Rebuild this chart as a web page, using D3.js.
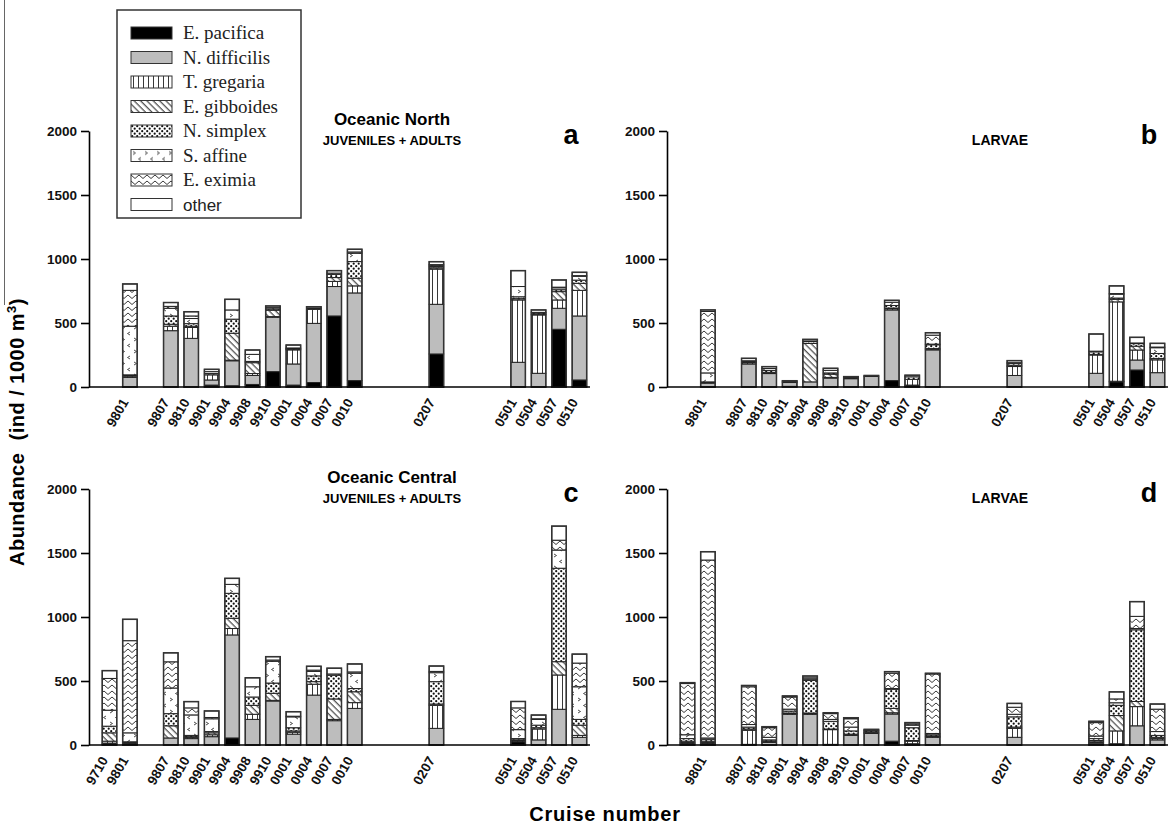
<!DOCTYPE html>
<html lang="en">
    <head>
        <meta charset="utf-8">
        <title>Euphausiid abundance</title>
        <script type="text/javascript" src="https://cdnjs.cloudflare.com/ajax/libs/d3/7.8.5/d3.min.js"></script>
        <style type="text/css">
            body { margin: 0; background: #fff; }
        </style>
    </head>
    <body>
        <script type="text/javascript">
            var w = 1168;
            var h = 828;
            var sans = "'Liberation Sans', Arial, sans-serif";
            var serif = "'Liberation Serif', 'Times New Roman', serif";

            var species = ["E. pacifica", "N. difficilis", "T. gregaria", "E. gibboides",
                           "N. simplex", "S. affine", "E. eximia", "other"];

            // every slot on the cruise axis, blanks are the gaps between sampling periods
            var cruiseSlots = ["9710", "9801", "gap1", "9807", "9810", "9901", "9904", "9908", "9910",
                               "0001", "0004", "0007", "0010", "gap2", "gap3", "gap4", "0207",
                               "gap5", "gap6", "gap7", "0501", "0504", "0507", "0510"];

            var yTicks = [0, 500, 1000, 1500, 2000];

            var northCruises = ["9801", "9807", "9810", "9901", "9904", "9908", "9910", "0001",
                                "0004", "0007", "0010", "0207", "0501", "0504", "0507", "0510"];
            var centralCruises = ["9710", "9801", "9807", "9810", "9901", "9904", "9908", "9910", "0001",
                                  "0004", "0007", "0010", "0207", "0501", "0504", "0507", "0510"];

            var northLabels = northCruises;
            var centralAdultLabels = centralCruises;
            var centralLarvaeLabels = northCruises;

            // rows: pacifica, difficilis, gregaria, gibboides, simplex, affine, eximia, other
            var northAdult = [
                [0, 75, 10, 5, 5, 380, 280, 50],
                [0, 440, 35, 15, 65, 60, 15, 30],
                [0, 380, 85, 10, 20, 40, 20, 33],
                [15, 40, 40, 0, 10, 15, 0, 18],
                [10, 195, 5, 210, 110, 72, 0, 83],
                [20, 70, 15, 85, 10, 55, 0, 34],
                [120, 425, 5, 50, 10, 10, 0, 13],
                [15, 165, 110, 5, 5, 5, 0, 23],
                [35, 462, 110, 0, 5, 5, 0, 10],
                [555, 230, 40, 30, 25, 10, 0, 19],
                [50, 685, 55, 60, 130, 65, 10, 21],
                [258, 388, 275, 10, 10, 10, 5, 23],
                [0, 193, 487, 10, 15, 80, 0, 124],
                [0, 107, 456, 5, 10, 5, 0, 19],
                [451, 164, 65, 65, 15, 15, 5, 56],
                [55, 500, 200, 55, 25, 30, 5, 26]
            ];

            var northLarvae = [
                [0, 30, 0, 5, 5, 70, 480, 12],
                [0, 180, 10, 5, 5, 5, 0, 19],
                [0, 105, 5, 5, 15, 15, 0, 14],
                [5, 30, 5, 5, 0, 0, 0, 4],
                [0, 40, 0, 300, 15, 5, 0, 12],
                [0, 70, 5, 25, 10, 20, 0, 16],
                [0, 65, 5, 0, 5, 0, 0, 6],
                [0, 82, 0, 0, 0, 0, 0, 8],
                [50, 552, 10, 5, 20, 25, 0, 15],
                [10, 5, 45, 0, 20, 0, 0, 12],
                [0, 290, 5, 5, 30, 5, 70, 19],
                [0, 90, 70, 10, 15, 5, 0, 16],
                [0, 107, 143, 5, 20, 5, 0, 134],
                [40, 5, 620, 20, 10, 30, 5, 60],
                [133, 78, 78, 30, 20, 5, 0, 44],
                [0, 112, 100, 10, 40, 45, 5, 29]
            ];

            var centralAdult = [
                [10, 5, 15, 65, 52, 125, 248, 61],
                [10, 0, 5, 5, 5, 70, 720, 167],
                [0, 55, 0, 95, 95, 200, 205, 70],
                [0, 50, 10, 5, 10, 160, 55, 49],
                [0, 65, 15, 15, 10, 100, 10, 51],
                [55, 805, 50, 80, 195, 70, 0, 47],
                [0, 200, 40, 70, 65, 80, 0, 70],
                [0, 344, 5, 55, 80, 170, 10, 26],
                [0, 85, 15, 10, 25, 85, 5, 35],
                [0, 390, 85, 20, 45, 35, 10, 30],
                [0, 190, 10, 160, 185, 10, 0, 45],
                [0, 286, 45, 85, 25, 120, 10, 62],
                [0, 130, 180, 10, 175, 70, 10, 42],
                [25, 5, 5, 5, 10, 70, 170, 50],
                [0, 40, 85, 10, 20, 45, 5, 29],
                [0, 279, 268, 104, 730, 142, 77, 110],
                [0, 60, 15, 80, 45, 255, 185, 70]
            ];

            var centralLarvae = [
                [10, 5, 5, 10, 20, 30, 400, 7],
                [10, 5, 5, 10, 15, 10, 1390, 65],
                [0, 5, 110, 10, 15, 20, 295, 10],
                [0, 20, 5, 5, 10, 20, 75, 8],
                [0, 240, 5, 5, 15, 15, 95, 8],
                [0, 240, 5, 5, 255, 10, 10, 14],
                [0, 5, 115, 5, 60, 15, 45, 7],
                [0, 75, 5, 5, 25, 30, 65, 8],
                [0, 90, 5, 5, 10, 5, 0, 7],
                [30, 212, 10, 34, 150, 5, 120, 12],
                [0, 10, 20, 5, 100, 20, 10, 10],
                [0, 60, 5, 5, 10, 10, 465, 5],
                [0, 60, 70, 10, 80, 20, 55, 30],
                [10, 10, 5, 10, 15, 20, 105, 10],
                [0, 10, 100, 120, 80, 20, 30, 55],
                [0, 150, 150, 40, 560, 10, 95, 115],
                [0, 40, 10, 10, 15, 30, 175, 40]
            ];

            var svg = d3.select("body")
                        .append("svg")
                        .attr("width", w)
                        .attr("height", h)
                        .style("font-family", sans);

            svg.append("rect").attr("width", w).attr("height", h).attr("fill", "white");

            // fill patterns
            var defs = svg.append("defs");

            var p = defs.append("pattern").attr("id", "greg").attr("patternUnits", "userSpaceOnUse")
                        .attr("width", 5).attr("height", 10);
            p.append("rect").attr("width", 5).attr("height", 10).attr("fill", "white");
            p.append("line").attr("x1", 2.5).attr("x2", 2.5).attr("y1", 0).attr("y2", 10)
             .attr("stroke", "#222").attr("stroke-width", 0.9);

            p = defs.append("pattern").attr("id", "gib").attr("patternUnits", "userSpaceOnUse")
                    .attr("width", 4.5).attr("height", 10).attr("patternTransform", "rotate(-45)");
            p.append("rect").attr("width", 4.5).attr("height", 10).attr("fill", "white");
            p.append("line").attr("x1", 2).attr("x2", 2).attr("y1", 0).attr("y2", 10)
             .attr("stroke", "#222").attr("stroke-width", 1);

            p = defs.append("pattern").attr("id", "simp").attr("patternUnits", "userSpaceOnUse")
                    .attr("width", 5).attr("height", 5);
            p.append("rect").attr("width", 5).attr("height", 5).attr("fill", "white");
            p.append("circle").attr("cx", 1.2).attr("cy", 1.2).attr("r", 1.1).attr("fill", "#111");
            p.append("circle").attr("cx", 3.7).attr("cy", 3.7).attr("r", 1.1).attr("fill", "#111");

            p = defs.append("pattern").attr("id", "aff").attr("patternUnits", "userSpaceOnUse")
                    .attr("width", 12).attr("height", 12);
            p.append("rect").attr("width", 12).attr("height", 12).attr("fill", "white");
            p.append("path").attr("d", "M2,2 L4.5,3.5 L2,5 M10,8 L7.5,9.5 L10,11")
             .attr("fill", "none").attr("stroke", "#222").attr("stroke-width", 0.8);

            p = defs.append("pattern").attr("id", "exi").attr("patternUnits", "userSpaceOnUse")
                    .attr("width", 8).attr("height", 6);
            p.append("rect").attr("width", 8).attr("height", 6).attr("fill", "white");
            p.append("path").attr("d", "M0,1 L4,4.5 L8,1")
             .attr("fill", "none").attr("stroke", "#222").attr("stroke-width", 0.9);

            var fills = ["#000", "#bdbdbd", "url(#greg)", "url(#gib)", "url(#simp)",
                         "url(#aff)", "url(#exi)", "#fff"];

            var stack = d3.stack().keys(d3.range(species.length));

            function drawPanel(x0, baseline, cruises, rows, labels, title, sub, letter) {
                var x = d3.scaleBand()
                          .domain(cruiseSlots)
                          .range([x0, x0 + 501])
                          .paddingInner(0.29)
                          .paddingOuter(0.405)
                          .align(0.8);
                var y = d3.scaleLinear().domain([0, 2000]).range([baseline, baseline - 256]);

                var data = rows.map(function (r, i) {
                    var o = { cruise: cruises[i] };
                    r.forEach(function (v, k) { o[k] = v; });
                    return o;
                });
                var series = stack(data);

                var g = svg.append("g");

                g.selectAll("g.layer")
                 .data(series)
                 .enter()
                 .append("g")
                 .attr("fill", function (d, i) { return fills[i]; })
                 .selectAll("rect")
                 .data(function (d) { return d.filter(function (s) { return s[1] > s[0]; }); })
                 .enter()
                 .append("rect")
                 .attr("x", function (d) { return x(d.data.cruise); })
                 .attr("width", x.bandwidth())
                 .attr("y", function (d) { return y(d[1]); })
                 .attr("height", function (d) { return y(d[0]) - y(d[1]); })
                 .attr("stroke", "#222")
                 .attr("stroke-width", 1);

                // bar outlines
                g.selectAll("rect.outline")
                 .data(data)
                 .enter()
                 .append("rect")
                 .attr("x", function (d) { return x(d.cruise); })
                 .attr("width", x.bandwidth())
                 .attr("y", function (d, i) { return y(d3.sum(rows[i])); })
                 .attr("height", function (d, i) { return baseline - y(d3.sum(rows[i])); })
                 .attr("fill", "none")
                 .attr("stroke", "#333")
                 .attr("stroke-width", 1.5);

                var yAxis = d3.axisLeft(y).tickValues(yTicks).tickFormat(d3.format("d"))
                              .tickSize(8).tickSizeOuter(0).tickPadding(4);
                var ax = g.append("g").attr("transform", "translate(" + x0 + ",0)").call(yAxis);
                ax.select(".domain").attr("stroke-width", 1.6);
                ax.selectAll(".tick line").attr("stroke-width", 1.6);
                ax.selectAll("text").attr("font-size", 13.5).attr("font-weight", "bold")
                  .attr("font-family", sans).attr("fill", "#111");

                g.append("line")
                 .attr("x1", x0).attr("x2", x0 + 501)
                 .attr("y1", baseline).attr("y2", baseline)
                 .attr("stroke", "#000").attr("stroke-width", 1.6);

                g.selectAll("text.cruise")
                 .data(labels)
                 .enter()
                 .append("text")
                 .attr("class", "cruise")
                 .attr("transform", function (d) {
                     return "translate(" + (x(d) + x.bandwidth() / 2 - 1) + "," + (baseline + 15) + ") rotate(-60)";
                 })
                 .attr("text-anchor", "end")
                 .attr("font-size", 13.5)
                 .attr("font-weight", "bold")
                 .attr("fill", "#111")
                 .text(function (d) { return d; });

                if (title) {
                    g.append("text").attr("x", x0 + 303).attr("y", baseline - 262)
                     .attr("text-anchor", "middle").attr("font-size", 17).attr("font-weight", "bold")
                     .text(title);
                }
                g.append("text").attr("x", x0 + 303 + (title ? 0 : 30)).attr("y", baseline - 242)
                 .attr("text-anchor", "middle").attr("font-size", title ? 13 : 14).attr("font-weight", "bold")
                 .text(sub);
                g.append("text").attr("x", x0 + 482).attr("y", baseline - 243)
                 .attr("text-anchor", "middle").attr("font-size", 27).attr("font-weight", "bold")
                 .text(letter);
            }

            drawPanel(89, 387, northCruises, northAdult, northLabels, "Oceanic North", "JUVENILES + ADULTS", "a");
            drawPanel(667, 387, northCruises, northLarvae, northLabels, null, "LARVAE", "b");
            drawPanel(89, 745, centralCruises, centralAdult, centralAdultLabels, "Oceanic Central", "JUVENILES + ADULTS", "c");
            drawPanel(667, 745, centralCruises, centralLarvae, centralLarvaeLabels, null, "LARVAE", "d");

            // legend
            var lg = svg.append("g").attr("transform", "translate(117,10)");
            lg.append("rect").attr("width", 184).attr("height", 208)
              .attr("fill", "white").attr("stroke", "#333").attr("stroke-width", 1.5);
            var item = lg.selectAll("g.item")
                         .data(species)
                         .enter()
                         .append("g")
                         .attr("transform", function (d, i) { return "translate(14," + (17 + i * 24.5) + ")"; });
            item.append("rect")
                .attr("width", 41).attr("height", 12)
                .attr("fill", function (d, i) { return fills[i]; })
                .attr("stroke", "#333").attr("stroke-width", 1);
            item.append("text")
                .attr("x", 52).attr("y", 12)
                .attr("fill", "#222")
                .style("font-size", function (d) { return d == "other" ? "17px" : "19px"; })
                .style("font-family", function (d) { return d == "other" ? sans : serif; })
                .text(function (d) { return d; });

            // axis titles
            svg.append("text")
               .attr("transform", "translate(24,432) rotate(-90)")
               .attr("text-anchor", "middle")
               .attr("font-size", 20)
               .attr("font-weight", "bold")
               .attr("letter-spacing", 0.5)
               .html("Abundance&#160;&#160;(ind / 1000 m<tspan dy='-8' font-size='13'>3</tspan><tspan dy='8'>)</tspan>");

            svg.append("text")
               .attr("x", 605).attr("y", 821)
               .attr("text-anchor", "middle")
               .attr("font-size", 20)
               .attr("font-weight", "bold")
               .attr("letter-spacing", 0.8)
               .text("Cruise number");

            svg.append("line").attr("x1", 4.5).attr("x2", 4.5).attr("y1", 0).attr("y2", 305)
               .attr("stroke", "#666").attr("stroke-width", 1);
        </script>
    </body>
</html>
